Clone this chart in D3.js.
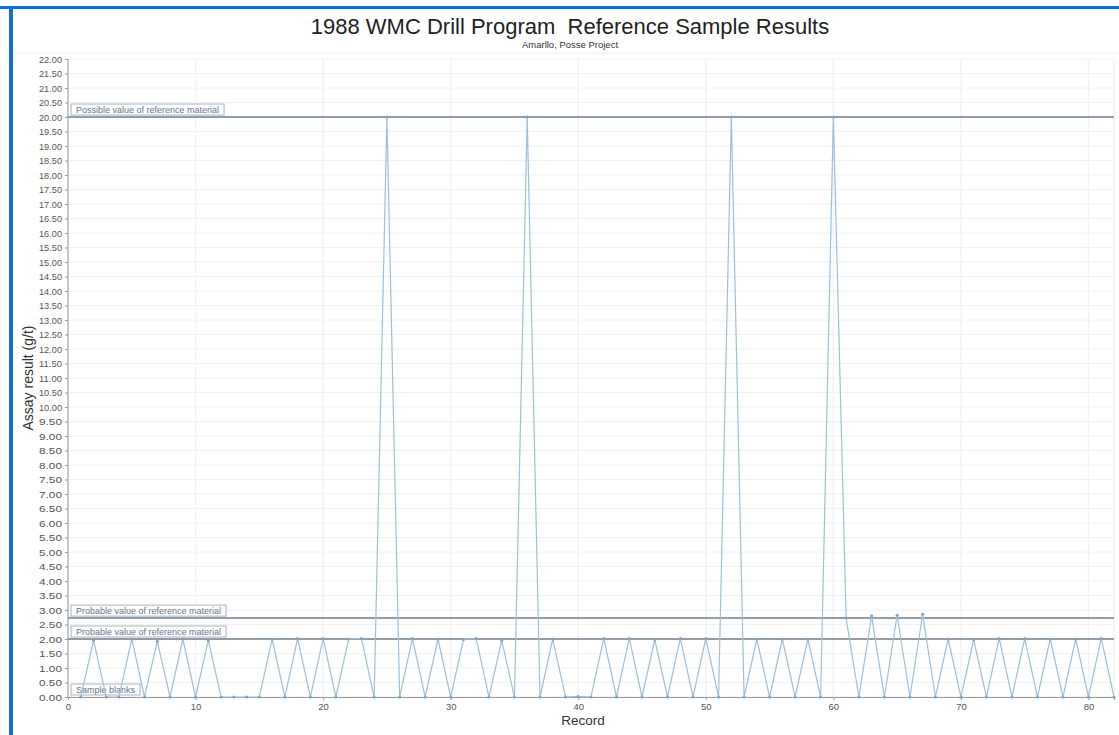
<!DOCTYPE html>
<html lang="en">
<head>
    <meta charset="UTF-8">
    <title>1988 WMC Drill Program Reference Sample Results</title>
    <style>
        body { margin: 0; background: #fff; }
        svg { display: block; font-family: "Liberation Sans", Arial, sans-serif; }
    </style>
</head>
<body>
<script src="https://cdn.jsdelivr.net/npm/d3@7/dist/d3.min.js"></script>
<script>
    // record numbers and assay results
    let records = [];
    for (let i = 1; i <= 82; i++) records.push(i);
    let results = [
        0, 1.95, 0, 0, 2.0, 0, 1.92, 0, 2.0, 0,
        1.95, 0, 0, 0, 0, 2.0, 0, 2.02, 0, 2.02,
        0, 2.0, 2.02, 0, 20, 0, 2.02, 0, 2.0, 0,
        1.98, 2.02, 0, 1.95, 0, 20, 0, 2.0, 0, 0.02,
        0, 2.02, 0, 2.02, 0, 1.98, 0, 2.02, 0, 2.02,
        0, 20, 0, 2.0, 0, 2.0, 0, 2.0, 0, 20,
        2.72, 0, 2.8, 0, 2.82, 0, 2.85, 0, 2.0, 0,
        1.97, 0, 2.02, 0, 2.02, 0, 2.0, 0, 2.0, 0,
        2.02, 0
    ];
    let refValues = [20, 2.72, 2.0, 0];
    let refLabels = ["Possible value of reference material", "Probable value of reference material",
        "Probable value of reference material", "Sample blanks"];
    let xTicks = [0, 10, 20, 30, 40, 50, 60, 70, 80];
    let yTicks = d3.range(0, 22.01, 0.5);

    let width = 1119;
    let height = 735;
    let margin = {top: 59, right: 5, bottom: 38, left: 68};

    let svg = d3.select("body").append("svg")
        .attr("width", width)
        .attr("height", height);

    // blue frame
    svg.append("rect").attr("x", 0).attr("y", 6).attr("width", width).attr("height", 3).attr("fill", "#1b6fc2");
    svg.append("rect").attr("x", 9).attr("y", 6).attr("width", 4).attr("height", height - 6).attr("fill", "#1b6fc2");

    let x = d3.scaleLinear().domain([0, 82]).range([margin.left, width - margin.right]);
    let y = d3.scaleLinear().domain([0, 22]).range([height - margin.bottom, margin.top]);

    // faint separator under title
    svg.append("line").attr("x1", 14).attr("x2", width).attr("y1", 53).attr("y2", 53)
        .attr("stroke", "#f0f0f0");

    // grid
    svg.append("g").selectAll("line").data(yTicks).enter().append("line")
        .attr("x1", margin.left).attr("x2", width - margin.right)
        .attr("y1", d => y(d)).attr("y2", d => y(d))
        .attr("stroke", "#f2f2f2");
    svg.append("g").selectAll("line").data(xTicks.concat([82])).enter().append("line")
        .attr("x1", d => x(d)).attr("x2", d => x(d))
        .attr("y1", margin.top).attr("y2", height - margin.bottom)
        .attr("stroke", "#f3f3f3").attr("stroke-width", 1.5);

    // axes
    let yAxis = svg.append("g")
        .attr("transform", "translate(" + margin.left + ",0)")
        .call(d3.axisLeft(y).tickValues(yTicks).tickFormat(d3.format(".2f")).tickSize(3).tickPadding(3));
    let xAxis = svg.append("g")
        .attr("transform", "translate(0," + (height - margin.bottom) + ")")
        .call(d3.axisBottom(x).tickValues(xTicks).tickSize(3).tickPadding(3));
    [xAxis, yAxis].forEach(a => {
        a.select(".domain").attr("stroke", "#999");
        a.selectAll(".tick line").attr("stroke", "#999");
        a.selectAll("text").attr("fill", "#555").style("font-size", "9.5px")
            .style("font-family", "'Liberation Sans', Arial, sans-serif");
    });
    yAxis.selectAll("text").attr("textLength", 23).attr("lengthAdjust", "spacingAndGlyphs");
    yAxis.select(".domain").attr("d", "M0," + y(0) + "V" + y(22));

    // reference lines with labels
    let refs = svg.append("g").selectAll("g").data(refValues).enter().append("g");
    refs.filter(d => d > 0).append("line")
        .attr("x1", margin.left).attr("x2", width - margin.right)
        .attr("y1", d => y(d)).attr("y2", d => y(d))
        .attr("stroke", "#6e7e8c").attr("stroke-width", 1.5);
    refs.each(function (d, i) {
        let g = d3.select(this);
        let t = g.append("text")
            .attr("x", margin.left + 8)
            .attr("y", y(d) - 4.5)
            .attr("fill", "#66758a")
            .style("font-size", "9px")
            .text(refLabels[i]);
        let w = t.node().getComputedTextLength();
        g.insert("rect", "text")
            .attr("x", margin.left + 3)
            .attr("y", y(d) - 13)
            .attr("width", w + 10)
            .attr("height", 11)
            .attr("fill", "#fff")
            .attr("stroke", "#aab3bd")
            .attr("stroke-width", 1);
    });

    // data line
    let data = records.map((r, i) => [r, results[i]]);
    let line = d3.line().x(d => x(d[0])).y(d => y(d[1]));
    svg.append("path")
        .datum(data)
        .attr("d", line)
        .attr("fill", "none")
        .attr("stroke", "#9fc0d8")
        .attr("stroke-width", 1.2);
    svg.append("g").selectAll("circle").data(data).enter().append("circle")
        .attr("cx", d => x(d[0]))
        .attr("cy", d => y(d[1]))
        .attr("r", 1.5)
        .attr("fill", "#86a3bb");

    // titles
    svg.append("text").attr("x", 570).attr("y", 34).attr("text-anchor", "middle")
        .attr("fill", "#222").style("font-size", "22px").style("white-space", "pre")
        .text("1988 WMC Drill Program  Reference Sample Results");
    svg.append("text").attr("x", 570).attr("y", 48).attr("text-anchor", "middle")
        .attr("fill", "#333").style("font-size", "9.5px")
        .text("Amarllo, Posse Project");
    svg.append("text").attr("x", 583).attr("y", 725).attr("text-anchor", "middle")
        .attr("fill", "#333").style("font-size", "13.5px")
        .text("Record");
    svg.append("text")
        .attr("transform", "translate(33," + y(11) + ") rotate(-90)")
        .attr("text-anchor", "middle")
        .attr("fill", "#333").style("font-size", "14px")
        .text("Assay result (g/t)");
</script>
</body>
</html>
